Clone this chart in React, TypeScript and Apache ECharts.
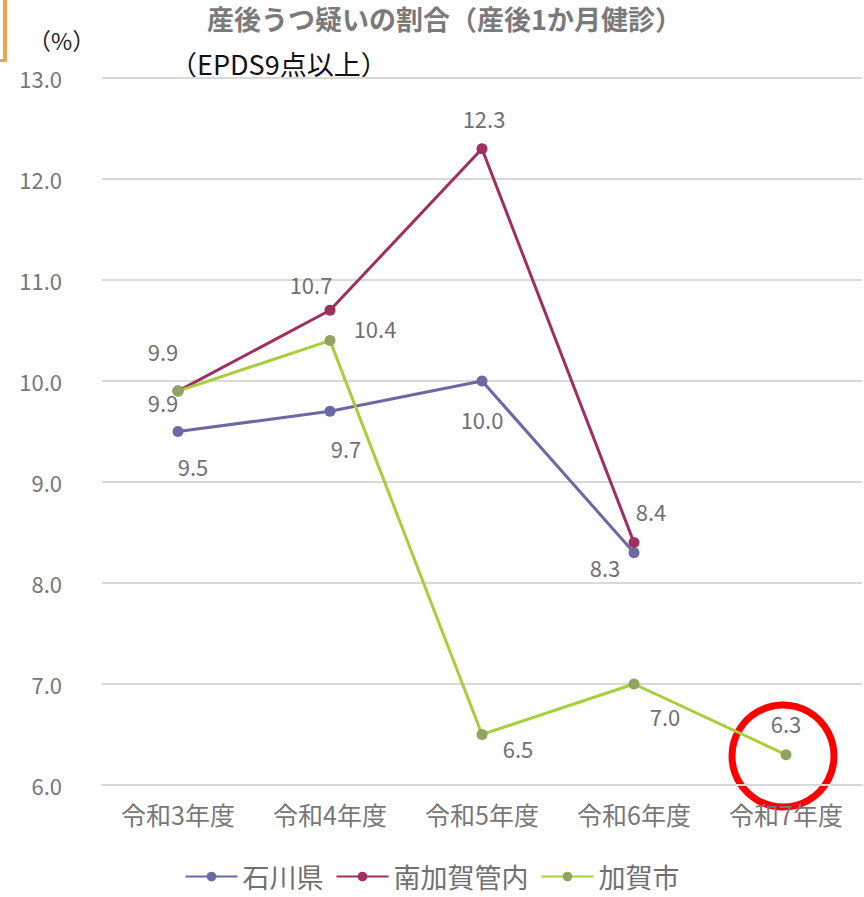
import React, { useEffect, useRef } from "react";
import * as echarts from "echarts";

const categories = ["令和3年度", "令和4年度", "令和5年度", "令和6年度", "令和7年度"];
const seriesNames = ["石川県", "南加賀管内", "加賀市"];
const ishikawa = [9.5, 9.7, 10.0, 8.3, null];
const minamiKaga = [9.9, 10.7, 12.3, 8.4, null];
const kagaCity = [9.9, 10.4, 6.5, 7.0, 6.3];
const yTicks = { min: 6, max: 13, interval: 1 };

const ishikawaOffsets = [[15, 34], [16, 37], [0, 38], [-29, 14], [0, 0]];
const minamiOffsets = [[-15, -40], [-19, -26], [2, -31], [17, -32], [0, 0]];
const kagaOffsets = [[-15, 11], [45, -13], [36, 13], [31, 32], [0, -32]];

const FONT = "'Noto Sans CJK JP', 'Noto Sans', sans-serif";

function buildData(vals: (number | null)[], offs: number[][]) {
  return vals.map((v, i) => ({
    value: v,
    label: { offset: offs[i] },
  }));
}

export default function App() {
  const ref = useRef<HTMLDivElement>(null);
  useEffect(() => {
    const chart = echarts.init(ref.current!, null, { renderer: "svg" });
    const mkSeries = (name: string, vals: (number | null)[], offs: number[][], lineColor: string, dotColor: string) => ({
      name,
      type: "line",
      data: buildData(vals, offs),
      symbol: "circle",
      symbolSize: 11,
      lineStyle: { color: lineColor, width: 3 },
      itemStyle: { color: dotColor },
      label: {
        show: true,
        position: "inside",
        color: "#707070",
        fontSize: 22,
        fontFamily: FONT,
        formatter: (p: any) => Number(p.value).toFixed(1),
      },
    });
    chart.setOption({
      animation: false,
      backgroundColor: "#fff",
      grid: { left: 102, right: 2, top: 78, bottom: 112, containLabel: false },
      xAxis: {
        type: "category",
        data: categories,
        boundaryGap: true,
        axisLine: { show: true, lineStyle: { color: "#d9d9d9", width: 2 } },
        axisTick: { show: false },
        axisLabel: { color: "#777", fontSize: 25, fontFamily: FONT, margin: 16, interval: 0 },
      },
      yAxis: {
        type: "value",
        min: yTicks.min,
        max: yTicks.max,
        interval: yTicks.interval,
        axisLine: { show: false },
        axisTick: { show: false },
        splitLine: { lineStyle: { color: "#d9d9d9", width: 2 } },
        axisLabel: {
          color: "#777",
          fontSize: 22,
          fontFamily: FONT,
          margin: 40,
          formatter: (v: number) => v.toFixed(1),
        },
      },
      legend: {
        data: seriesNames,
        bottom: 2,
        left: "center",
        itemWidth: 52,
        itemHeight: 12,
        itemGap: 12,
        textStyle: { color: "#707070", fontSize: 27, fontFamily: FONT },
      },
      series: [
        mkSeries(seriesNames[0], ishikawa, ishikawaOffsets, "#6b68a6", "#6b68a6"),
        mkSeries(seriesNames[1], minamiKaga, minamiOffsets, "#9e2f5e", "#9e2f5e"),
        mkSeries(seriesNames[2], kagaCity, kagaOffsets, "#a8cf3a", "#8fa460"),
      ],
      graphic: [
        {
          type: "text",
          left: 207,
          top: 5,
          style: {
            text: "産後うつ疑いの割合（産後1か月健診）",
            fill: "#7a7a7a",
            fontSize: 27,
            fontWeight: "bold",
            fontFamily: FONT,
          },
        },
        {
          type: "text",
          left: 28,
          top: 28,
          style: { text: "（%）", fill: "#222", fontSize: 23, fontFamily: FONT },
        },
        {
          type: "text",
          left: 170,
          top: 50,
          style: { text: "（EPDS9点以上）", fill: "#111", fontSize: 27, fontFamily: FONT },
        },
        {
          type: "rect",
          shape: { x: 3, y: 0, width: 4, height: 62 },
          style: { fill: "#f5a04a" },
        },
        {
          type: "rect",
          shape: { x: 0, y: 59, width: 7, height: 3 },
          style: { fill: "#f5a04a" },
        },
        {
          type: "circle",
          shape: { cx: 783, cy: 756, r: 51 },
          style: { fill: "none", stroke: "#ff0000", lineWidth: 7 },
        },
      ],
    });
    return () => chart.dispose();
  }, []);
  return (
    <div
      ref={ref}
      style={{ position: "fixed", left: 0, top: 0, width: 864, height: 897 }}
    />
  );
}
